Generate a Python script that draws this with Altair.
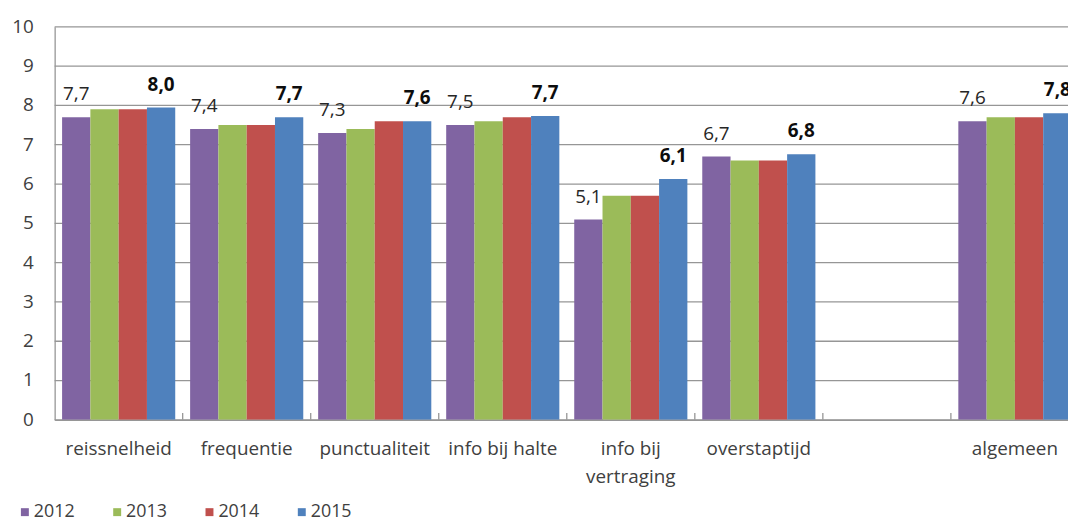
import altair as alt
import pandas as pd

categories = ["reissnelheid", "frequentie", "punctualiteit", "info bij halte",
              "info bij vertraging", "overstaptijd", " ", "algemeen"]
years = ["2012", "2013", "2014", "2015"]
v2012 = [7.7, 7.4, 7.3, 7.5, 5.1, 6.7, None, 7.6]
v2013 = [7.9, 7.5, 7.4, 7.6, 5.7, 6.6, None, 7.7]
v2014 = [7.9, 7.5, 7.6, 7.7, 5.7, 6.6, None, 7.7]
v2015 = [7.95, 7.7, 7.6, 7.73, 6.13, 6.76, None, 7.8]
labels2012 = ["7,7", "7,4", "7,3", "7,5", "5,1", "6,7", "", "7,6"]
labels2015 = ["8,0", "7,7", "7,6", "7,7", "6,1", "6,8", "", "7,8"]
y_ticks = [0, 1, 2, 3, 4, 5, 6, 7, 8, 9, 10]
colors = ["#8064A2", "#9BBB59", "#C0504D", "#4F81BD"]

rows = []
for yr, vals in zip(years, [v2012, v2013, v2014, v2015]):
    for c, v in zip(categories, vals):
        if v is not None:
            rows.append({"category": c, "year": yr, "value": v})
df = pd.DataFrame(rows)

lab_rows = []
for yr, vals, labs in [("2012", v2012, labels2012), ("2015", v2015, labels2015)]:
    for c, v, t in zip(categories, vals, labs):
        if v is not None:
            lab_rows.append({"category": c, "year": yr, "value": v, "label": t})
lab_df = pd.DataFrame(lab_rows)
tick_df = pd.DataFrame({"category": categories[1:]})
grid_df = pd.DataFrame({"value": y_ticks, "label": [str(t) for t in y_ticks]})

FONT = "Open Sans"
GRID = "#969696"
x_scale = alt.Scale(domain=categories, range=[0, 1032], paddingInner=0.1163, paddingOuter=0.0581)
xo_scale = alt.Scale(domain=years, paddingInner=0, paddingOuter=0)
y_scale = alt.Scale(domain=[0, 10], nice=False)

x_axis = alt.Axis(title=None, ticks=False, domainColor=GRID, domainWidth=1.3,
                  labelAngle=0, labelFont=FONT, labelFontSize=19, labelColor="#404040",
                  labelPadding=29, labelLineHeight=28, labelBaseline="middle",
                  labelOverlap=False,
                  labelExpr="datum.value == 'info bij vertraging' ? ['info bij', 'vertraging'] : datum.value")
y_axis = alt.Axis(title=None, ticks=False, labels=False, grid=False,
                  domainColor=GRID, domainWidth=1.3)

X = alt.X("category:N", scale=x_scale, axis=x_axis)
XO = alt.XOffset("year:N", scale=xo_scale)
Y = alt.Y("value:Q", scale=y_scale, axis=y_axis)

grid = alt.Chart(grid_df).mark_rule(color=GRID, strokeWidth=1.3).encode(
    y=Y, x=alt.value(0), x2=alt.value(1021)
)
ylabels = alt.Chart(grid_df).mark_text(
    font=FONT, fontSize=19, color="#404040", align="right", baseline="middle"
).encode(y=Y, x=alt.value(-21), text="label:N")

bars = alt.Chart(df).mark_bar(clip=True).encode(
    x=X, xOffset=XO, y=Y,
    color=alt.Color("year:N", scale=alt.Scale(domain=years, range=colors),
                    legend=alt.Legend(orient="none", legendX=-39, legendY=480,
                                      direction="horizontal", title=None,
                                      symbolType="square", symbolSize=64,
                                      symbolStrokeWidth=0, labelFont=FONT,
                                      labelFontSize=18, labelColor="#404040",
                                      columnPadding=33, labelOffset=0)),
)

txt_normal = alt.Chart(lab_df[lab_df.year == "2012"]).mark_text(
    font=FONT, fontSize=19, color="#262626", baseline="alphabetic", dy=-17, clip=True
).encode(x=X, xOffset=XO, y=Y, text="label:N")

txt_bold = alt.Chart(lab_df[lab_df.year == "2015"]).mark_text(
    font=FONT, fontSize=19, fontWeight="bold", color="#0d0d0d", baseline="alphabetic",
    dy=-17, clip=True
).encode(x=X, xOffset=XO, y=Y, text="label:N")

ticks = alt.Chart(tick_df).mark_rule(color=GRID, strokeWidth=1.3, xOffset=-7.5).encode(
    x=alt.X("category:N", scale=x_scale, axis=x_axis, bandPosition=0),
    y=alt.value(396),
    y2=alt.value(389),
)

chart = alt.layer(grid, ylabels, bars, ticks, txt_normal, txt_bold).properties(
    width=1021, height=396,
    autosize=alt.AutoSizeParams(type="none"),
    padding={"left": 47, "top": 17, "right": 0, "bottom": 105},
).configure_view(stroke=None)

chart.save("out.html", embed_options={"renderer": "svg", "actions": False})
